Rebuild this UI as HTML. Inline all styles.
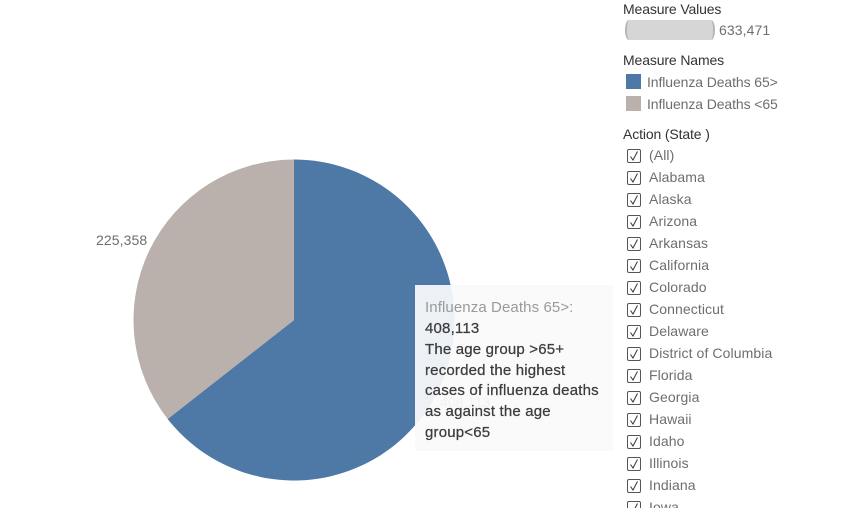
<!DOCTYPE html>
<html lang="en">
<head>
<meta charset="utf-8">
<title>Influenza Deaths by Age Group</title>
<style>
html,body{margin:0;padding:0;background:#fff}
body{width:850px;height:508px;overflow:hidden;position:relative;font-family:"Liberation Sans",sans-serif}
#stage{position:absolute;left:0;top:0;width:850px;height:508px;overflow:hidden;filter:blur(.3px)}
#pie{position:absolute;left:0;top:0}
.t{position:absolute;white-space:nowrap;font-size:14px;line-height:18px;color:#6e6e6e;letter-spacing:.1px}
.h{color:#333;letter-spacing:-.13px}
.l{letter-spacing:-.1px}
.swatch{position:absolute;left:626px;width:15px;height:15px}
#size-bar{position:absolute;left:625px;top:20px;width:90px;height:20px;background:#d6d6d6;border-left:2px solid #b4b4b4;border-right:2px solid #b4b4b4;border-radius:4px/10px;box-sizing:border-box}
#tooltip{position:absolute;left:415px;top:285px;width:198px;height:166px;background:rgba(250,250,250,.93)}
#tooltip div{position:absolute;left:10px;white-space:nowrap;font-size:15px;line-height:21px;color:#3c3c3c;letter-spacing:.18px;-webkit-text-stroke:.25px #3c3c3c}
#tooltip div.m{color:#9a9a9a;-webkit-text-stroke:0;letter-spacing:.1px}
.cb{position:absolute;left:627px;width:12px;height:12px;border:1.5px solid #555;border-radius:2px;background:#fff}
.cb svg{position:absolute;left:0;top:0}
</style>
</head>
<body>
<div id="stage">
  <svg id="pie" width="850" height="508"></svg>
  <div class="t" style="left:96px;top:231px" id="label-under">225,358</div>
  <div class="t" style="left:440px;top:393px;color:#8a8a8a" id="label-over">408,113</div>

  <div class="t h" style="left:623px;top:0">Measure Values</div>
  <div id="size-bar"></div>
  <div class="t" style="left:719px;top:21px" id="total-label">633,471</div>

  <div class="t h" style="left:623px;top:51px">Measure Names</div>
  <div class="swatch" style="top:74px;background:#4e79a7"></div>
  <div class="t l" style="left:647px;top:73px">Influenza Deaths 65&gt;</div>
  <div class="swatch" style="top:96px;background:#bab0ac"></div>
  <div class="t l" style="left:647px;top:95px">Influenza Deaths &lt;65</div>

  <div class="t h" style="left:623px;top:125px">Action (State )</div>
  <div id="filter"></div>

  <div id="tooltip">
    <div class="m" style="top:12px">Influenza Deaths 65&gt;:</div>
    <div style="top:33px">408,113</div>
    <div style="top:54px">The age group &gt;65+</div>
    <div style="top:75px">recorded the highest</div>
    <div style="top:95px">cases of influenza deaths</div>
    <div style="top:116px">as against the age</div>
    <div style="top:137px">group&lt;65</div>
  </div>
</div>
<script>
var categories = ["Influenza Deaths 65>", "Influenza Deaths <65"];
var seriesValues = [408113, 225358];
var sliceColors = ["#4e79a7", "#bab0ac"];
var states = ["(All)", "Alabama", "Alaska", "Arizona", "Arkansas", "California", "Colorado", "Connecticut", "Delaware", "District of Columbia", "Florida", "Georgia", "Hawaii", "Idaho", "Illinois", "Indiana", "Iowa"];

var NS = "http://www.w3.org/2000/svg";
var cx = 294, cy = 320, radius = 160.5;
var total = seriesValues.reduce(function (a, b) { return a + b; }, 0);

function angleScale(v) { return v / total * Math.PI * 2; }
function polar(a) { return [cx + radius * Math.sin(a), cy - radius * Math.cos(a)]; }
function fmt(v) { return v.toLocaleString("en-US"); }

var pie = document.getElementById("pie");
var start = 0;
seriesValues.forEach(function (v, i) {
  var end = start + angleScale(v);
  var p0 = polar(start), p1 = polar(end);
  var large = end - start > Math.PI ? 1 : 0;
  var slice = document.createElementNS(NS, "path");
  slice.setAttribute("d", "M" + cx + " " + cy + "L" + p0[0] + " " + p0[1] + "A" + radius + " " + radius + " 0 " + large + " 1 " + p1[0] + " " + p1[1] + "Z");
  slice.setAttribute("fill", sliceColors[i]);
  
  
  var tip = document.createElementNS(NS, "title");
  tip.textContent = categories[i] + ": " + fmt(v);
  slice.appendChild(tip);
  pie.appendChild(slice);
  start = end;
});

document.getElementById("label-over").textContent = fmt(seriesValues[0]);
document.getElementById("label-under").textContent = fmt(seriesValues[1]);
document.getElementById("total-label").textContent = fmt(total);

var filter = document.getElementById("filter");
states.forEach(function (name, i) {
  var y = 148.5 + i * 22;
  var box = document.createElement("div");
  box.className = "cb";
  box.style.top = y + "px";
  box.innerHTML = '<svg width="12" height="12" viewBox="0 0 12 12"><path d="M2.5 6.5L5 10L9.5 1.5" fill="none" stroke="#333" stroke-width="1"/></svg>';
  
  
  filter.appendChild(box);
  var label = document.createElement("div");
  label.className = "t";
  label.style.left = "649px";
  label.style.top = (149 + i * 22 - 3) + "px";
  label.textContent = name;
  
  
  filter.appendChild(label);
});
</script>
</body>
</html>
